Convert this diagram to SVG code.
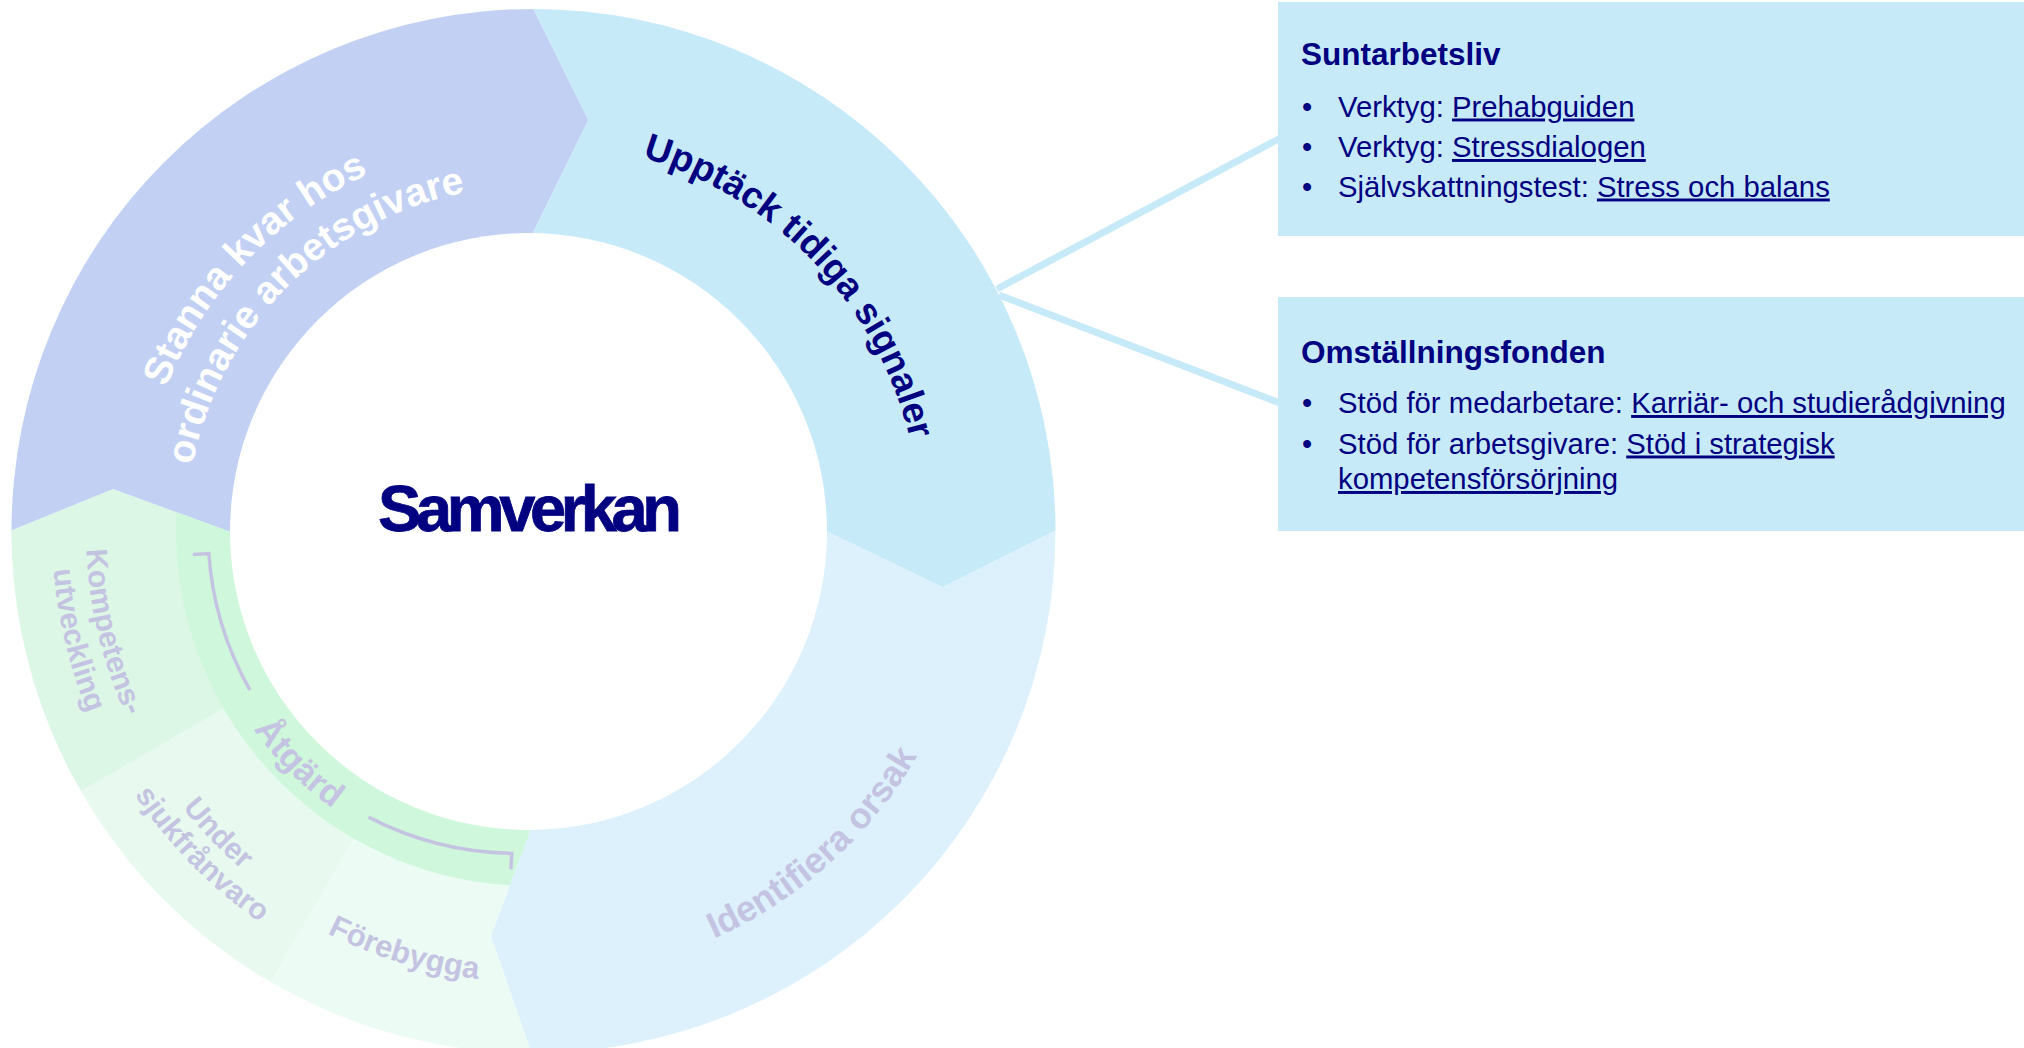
<svg xmlns="http://www.w3.org/2000/svg" width="2024" height="1048" viewBox="0 0 2024 1048">
<style>
.rt{font-family:'Liberation Sans',Arial,Helvetica,sans-serif;font-weight:bold;}
.navy{fill:#000080;}
.muted{fill:#C5C3E2;}
.wht{fill:#FFFFFF;}
.box{fill:#C7EAF9;}
.bt{font-family:'Liberation Sans',Arial,Helvetica,sans-serif;font-size:29.3px;fill:#000080;}
.bh{font-family:'Liberation Sans',Arial,Helvetica,sans-serif;font-size:31.5px;font-weight:bold;fill:#000080;}
.link{text-decoration:underline;}
.conn{stroke:#C7EAF9;stroke-width:7;fill:none;}
.brk{stroke:#C5C3E2;stroke-width:3.5;fill:none;}
</style>
<defs>
<clipPath id="outerClip"><circle cx="533.5" cy="531" r="522"/></clipPath>
<clipPath id="greenClip"><polygon points="531,531 530,831.7 491,936 548,1100 -30,1100 -17.9,542.3 113,489 230,531.7"/></clipPath>
<path id="pUpp" d="M440,151.8 A390,390 0 0 1 904.9,641.8"/>
<path id="pSt1" d="M155.2,642.3 A392,392 0 0 1 622.5,149.8"/>
<path id="pSt2" d="M197.8,620.3 A345,345 0 0 1 620.3,197.8"/>
<path id="pIde" d="M392.9,956.1 A447,447 0 0 0 968.2,438.1"/>
<path id="pFor" d="M91.9,634 A451,451 0 0 0 839.7,859.8"/>
<path id="pUn1" d="M103.2,408.3 A445,445 0 0 0 638.7,962.8"/>
<path id="pUn2" d="M71.3,403.5 A478,478 0 0 0 650.4,992.8"/>
<path id="pKo1" d="M224.7,208.2 A445,445 0 0 0 404.6,957.7"/>
<path id="pKo2" d="M200.6,182.8 A481,481 0 0 0 394.7,991.2"/>
<path id="pAtg" d="M201.6,442.7 A341,341 0 0 0 619.3,860.4"/>
</defs>

<g id="connectors">
<line class="conn" x1="997" y1="289" x2="1290" y2="133"/>
<line class="conn" x1="999" y1="295" x2="1290" y2="407"/>
</g>

<g id="seg-forebygga">
<polygon clip-path="url(#outerClip)" fill="#EDFBF5" points="531,531 530,831.7 491,936 548,1100 -30,1100 -17.9,542.3 113,489 230,531.7"/>
<text class="rt muted" font-size="31"><textPath href="#pFor" startOffset="50%" text-anchor="middle">Förebygga</textPath></text>
</g>

<g id="seg-under">
<polygon clip-path="url(#outerClip)" fill="#E8FAEF" points="531,531 -75,881 181,1137"/>
<text class="rt muted" font-size="30"><textPath href="#pUn1" startOffset="50%" text-anchor="middle">Under</textPath></text>
<text class="rt muted" font-size="30"><textPath href="#pUn2" startOffset="50%" text-anchor="middle">sjukfrånvaro</textPath></text>
</g>

<g id="seg-kompetens">
<polygon clip-path="url(#outerClip)" fill="#DDF7E7" points="531,531 -75,881 -17.9,542.3 113,489 230,531.7"/>
<text class="rt muted" font-size="30"><textPath href="#pKo1" startOffset="50%" text-anchor="middle">Kompetens-</textPath></text>
<text class="rt muted" font-size="30"><textPath href="#pKo2" startOffset="50%" text-anchor="middle">utveckling</textPath></text>
</g>

<g id="seg-stanna">
<polygon clip-path="url(#outerClip)" fill="#C2D1F3" points="531,531 230,531.7 113,489 -17.9,542.3 -30,-30 521.9,-14.4 588.3,120 533,232.7"/>
<text class="rt wht" font-size="39"><textPath href="#pSt1" startOffset="50%" text-anchor="middle">Stanna kvar hos</textPath></text>
<text class="rt wht" font-size="39"><textPath href="#pSt2" startOffset="50%" text-anchor="middle">ordinarie arbetsgivare</textPath></text>
</g>

<g id="seg-upptack">
<polygon clip-path="url(#outerClip)" fill="#C7EAF9" points="531,531 533,232.7 588.3,120 521.9,-14.4 1100,-30 1088.7,514.1 942.7,587.3 826.7,531.5"/>
<text class="rt navy" font-size="37"><textPath href="#pUpp" startOffset="50%" text-anchor="middle">Upptäck tidiga signaler</textPath></text>
</g>

<g id="seg-identifiera">
<polygon clip-path="url(#outerClip)" fill="#DDF1FD" points="531,531 826.7,531.5 942.7,587.3 1088.7,514.1 1100,1100 548,1100 491,936 530,831.7"/>
<text class="rt muted" font-size="36"><textPath href="#pIde" startOffset="50%" text-anchor="middle">Identifiera orsak</textPath></text>
</g>

<g id="seg-atgard">
<circle cx="531" cy="531" r="355" fill="#CFF7DC" clip-path="url(#greenClip)"/>
<path class="brk" d="M192.8,554.6 L208.8,553.5 A323,323 0 0 0 249.9,690"/>
<path class="brk" d="M368.5,817.1 A325,325 0 0 0 511.8,853.4 L510.9,869.4"/>
<text class="rt muted" font-size="35"><textPath href="#pAtg" startOffset="50%" text-anchor="middle">Åtgärd</textPath></text>
</g>

<g id="center-samverkan">
<circle cx="528.5" cy="531.5" r="298.5" fill="#FFFFFF"/>
<text class="rt navy" x="530" y="531" font-size="65" text-anchor="middle" textLength="304" lengthAdjust="spacing" stroke="#000080" stroke-width="0.8">Samverkan</text>
</g>

<g id="box-suntarbetsliv">
<rect class="box" x="1278" y="2" width="746" height="234"/>
<text class="bh" x="1301" y="64.5">Suntarbetsliv</text>
<text class="bt" x="1302" y="116.5">•</text>
<text class="bt" x="1338" y="116.5">Verktyg: <tspan class="link">Prehabguiden</tspan></text>
<text class="bt" x="1302" y="157">•</text>
<text class="bt" x="1338" y="157">Verktyg: <tspan class="link">Stressdialogen</tspan></text>
<text class="bt" x="1302" y="196.5">•</text>
<text class="bt" x="1338" y="196.5">Självskattningstest: <tspan class="link">Stress och balans</tspan></text>
</g>

<g id="box-omstallningsfonden">
<rect class="box" x="1278" y="297" width="746" height="234"/>
<text class="bh" x="1301" y="362.6">Omställningsfonden</text>
<text class="bt" x="1302" y="413">•</text>
<text class="bt" x="1338" y="413">Stöd för medarbetare: <tspan class="link">Karriär- och studierådgivning</tspan></text>
<text class="bt" x="1302" y="453.5">•</text>
<text class="bt" x="1338" y="453.5">Stöd för arbetsgivare: <tspan class="link">Stöd i strategisk</tspan></text>
<text class="bt" x="1338" y="489"><tspan class="link">kompetensförsörjning</tspan></text>
</g>
</svg>
